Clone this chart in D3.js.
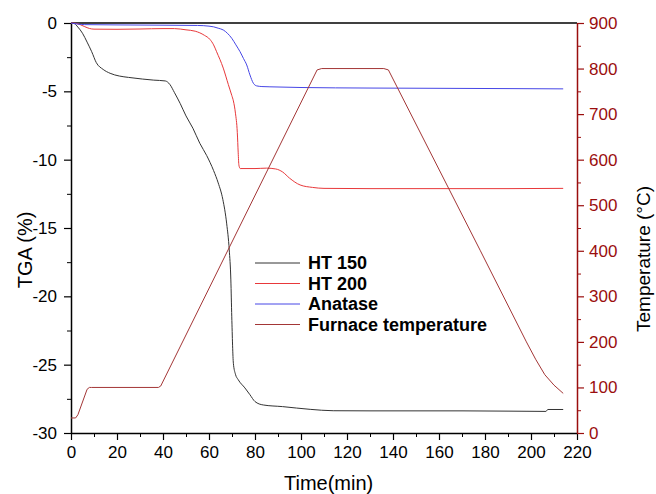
<!DOCTYPE html>
<html>
<head>
<meta charset="utf-8">
<script src="https://cdn.jsdelivr.net/npm/d3@7"></script>
<style>
  body { margin: 0; background: #fff; }
  svg { display: block; font-family: "Liberation Sans", Arial, sans-serif; }
</style>
</head>
<body>
<div id="chart"></div>
<script>
// TGA curves (time in min, mass change in %)
const ht150Time = [0, 1.5, 3, 5, 7, 9, 11, 14, 17, 21, 25, 31, 36, 41, 43, 45, 47.5, 50, 53, 56, 59, 62, 64, 66, 67.7, 68.8, 69.5, 69.9, 70.6, 71.5, 72.7, 75.6, 77.8, 80, 83.6, 92, 104, 114, 130, 150, 170, 190, 206.5, 207.3, 214];
const ht150Value = [0, -0.05, -0.3, -0.75, -1.4, -2.1, -2.9, -3.4, -3.68, -3.88, -3.98, -4.1, -4.18, -4.24, -4.5, -5.1, -5.9, -6.8, -7.7, -8.8, -9.7, -10.8, -11.7, -12.9, -14.7, -16.6, -18.8, -21.5, -24.9, -25.7, -26.1, -26.7, -27.2, -27.7, -27.95, -28.07, -28.27, -28.37, -28.38, -28.38, -28.38, -28.4, -28.42, -28.28, -28.28];

const ht200Time = [0, 2, 4, 6, 8, 10, 20, 30, 40, 45, 50, 54, 56, 58, 60.4, 62, 63.3, 66.2, 68.4, 69.9, 70.6, 71.5, 72.3, 72.7, 73, 73.6, 80, 85, 89, 92, 95, 99.6, 105, 110, 130, 160, 190, 214];
const ht200Value = [0, -0.02, -0.12, -0.27, -0.4, -0.45, -0.46, -0.44, -0.41, -0.41, -0.5, -0.6, -0.72, -0.9, -1.2, -1.6, -2.1, -3.3, -4.5, -5.3, -5.7, -6.6, -8.0, -9.5, -10.4, -10.65, -10.65, -10.62, -10.68, -10.9, -11.35, -11.85, -12.03, -12.1, -12.12, -12.12, -12.12, -12.1];

const anataseTime = [0, 3, 6, 20, 40, 55, 60, 62, 64, 66.2, 68, 69.9, 71.7, 73.5, 75, 76.4, 77.8, 79.3, 80.7, 83, 86.5, 100, 130, 160, 190, 214];
const anataseValue = [0, -0.08, -0.12, -0.14, -0.16, -0.18, -0.23, -0.28, -0.38, -0.51, -0.75, -1.12, -1.6, -2.1, -2.6, -3.07, -3.8, -4.41, -4.6, -4.65, -4.67, -4.72, -4.76, -4.78, -4.8, -4.82];

// furnace program (°C)
const furnaceTime = [0, 2, 3, 7, 8, 9, 38, 39, 107, 109, 136, 138, 178, 198, 202, 206, 210, 214];
const furnaceTemp = [33, 33, 40, 96, 100, 100, 100, 103, 797, 800, 800, 797, 400, 200, 162, 128, 105, 87];

const xTicks = [0, 20, 40, 60, 80, 100, 120, 140, 160, 180, 200, 220];
const yTicks = [0, -5, -10, -15, -20, -25, -30];
const tTicks = [0, 100, 200, 300, 400, 500, 600, 700, 800, 900];

const legendNames = ["HT 150", "HT 200", "Anatase", "Furnace temperature"];
const colors = ["#333333", "#e8383a", "#4646e6", "#a33636"];
const axisRed = "#9a0e0e";

const width = 656, height = 494;
const margin = {top: 23, right: 79, bottom: 61, left: 71};
const iw = width - margin.left - margin.right;
const ih = height - margin.top - margin.bottom;

const svg = d3.select("#chart").append("svg")
    .attr("width", width)
    .attr("height", height);

const g = svg.append("g")
    .attr("transform", `translate(${margin.left},${margin.top})`);

const x = d3.scaleLinear().domain([0, 220]).range([0, iw]);
const y = d3.scaleLinear().domain([-30, 0]).range([ih, 0]);
const yT = d3.scaleLinear().domain([0, 900]).range([ih, 0]);

function zip(ts, vs) {
    return ts.map((t, i) => [t, vs[i]]);
}

// top frame line
g.append("line")
    .attr("x1", 0).attr("x2", iw)
    .attr("y1", 0).attr("y2", 0)
    .attr("stroke", "#000")
    .attr("stroke-width", 1.5);

// minor ticks
const minorX = d3.range(10, 220, 20);
const minorY = d3.range(-2.5, -30, -5);
const minorT = d3.range(50, 900, 100);

g.append("g")
    .attr("transform", `translate(0,${ih})`)
    .call(d3.axisBottom(x).tickValues(minorX).tickSize(4).tickFormat(""))
    .call(a => a.select(".domain").remove());
g.append("g")
    .call(d3.axisLeft(y).tickValues(minorY).tickSize(4).tickFormat(""))
    .call(a => a.select(".domain").remove());
g.append("g")
    .attr("transform", `translate(${iw},0)`)
    .call(d3.axisRight(yT).tickValues(minorT).tickSize(4).tickFormat(""))
    .call(a => a.select(".domain").remove())
    .call(a => a.selectAll("line").attr("stroke", axisRed));

// major axes
const xAxis = g.append("g")
    .attr("transform", `translate(0,${ih})`)
    .call(d3.axisBottom(x).tickValues(xTicks).tickSize(7).tickSizeOuter(0).tickPadding(6).tickFormat(d => String(d)));

const yAxis = g.append("g")
    .call(d3.axisLeft(y).tickValues(yTicks).tickSize(7).tickSizeOuter(0).tickPadding(7).tickFormat(d => String(d)));

const tAxis = g.append("g")
    .attr("transform", `translate(${iw},0)`)
    .call(d3.axisRight(yT).tickValues(tTicks).tickSize(7).tickSizeOuter(0).tickPadding(5).tickFormat(d => String(d)));

[xAxis, yAxis].forEach(a => {
    a.selectAll("text").attr("fill", "#000").style("font-size", "17px");
    a.select(".domain").attr("stroke-width", 1.5);
    a.selectAll(".tick line").attr("stroke-width", 1.2);
});
tAxis.selectAll("text").attr("fill", axisRed).style("font-size", "17px");
tAxis.select(".domain").attr("stroke", axisRed).attr("stroke-width", 1.5);
tAxis.selectAll(".tick line").attr("stroke", axisRed).attr("stroke-width", 1.2);

// axis titles
svg.append("text")
    .attr("x", margin.left + x(112))
    .attr("y", 490)
    .attr("text-anchor", "middle")
    .style("font-size", "20px")
    .text("Time(min)");

svg.append("text")
    .attr("transform", "translate(32,250) rotate(-90)")
    .attr("text-anchor", "middle")
    .style("font-size", "20px")
    .text("TGA (%)");

svg.append("text")
    .attr("transform", "translate(650,259) rotate(-90)")
    .attr("text-anchor", "middle")
    .style("font-size", "19px")
    .attr("fill", "#000")
    .text("Temperature (°C)");

// curves
const tgaLine = d3.line()
    .x(d => x(d[0]))
    .y(d => y(d[1]))
    .curve(d3.curveMonotoneX);

const tempLine = d3.line()
    .x(d => x(d[0]))
    .y(d => yT(d[1]));

const series = [
    zip(ht150Time, ht150Value),
    zip(ht200Time, ht200Value),
    zip(anataseTime, anataseValue)
];

g.selectAll(".tga")
    .data(series)
    .join("path")
    .attr("class", "tga")
    .attr("fill", "none")
    .attr("stroke", (d, i) => colors[i])
    .attr("stroke-width", 1)
    .attr("d", tgaLine);

g.append("path")
    .attr("fill", "none")
    .attr("stroke", colors[3])
    .attr("stroke-width", 1)
    .attr("d", tempLine(zip(furnaceTime, furnaceTemp)));

// legend
const legend = svg.append("g")
    .attr("transform", "translate(255,263)");

const row = legend.selectAll("g")
    .data(legendNames)
    .join("g")
    .attr("transform", (d, i) => `translate(0,${i * 20.5})`);

row.append("line")
    .attr("x1", 0).attr("x2", 45)
    .attr("stroke", (d, i) => colors[i])
    .attr("stroke-width", 1);

row.append("text")
    .attr("x", 53)
    .attr("dy", "0.36em")
    .style("font-size", "18px")
    .style("font-weight", "bold")
    .text(d => d);
</script>
</body>
</html>
